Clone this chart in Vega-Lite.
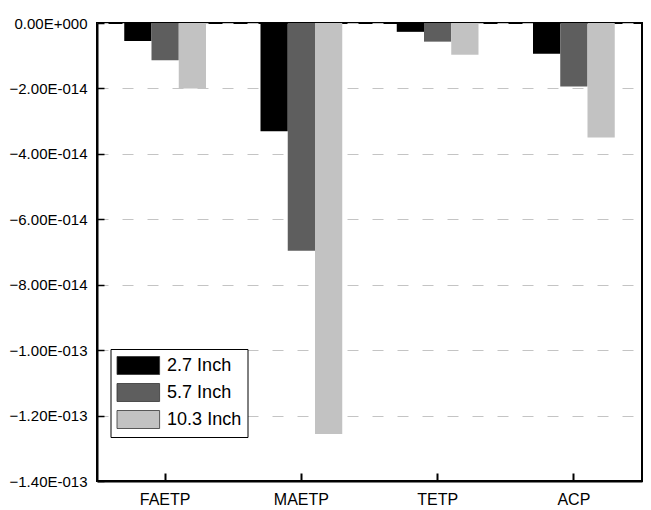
{
  "$schema": "https://vega.github.io/schema/vega-lite/v6.json",
  "width": 545,
  "height": 458,
  "autosize": {"type": "none"},
  "padding": {"left": 97, "top": 23, "right": 9, "bottom": 29},
  "background": "white",
  "config": {
    "font": "Liberation Sans",
    "view": {"stroke": "black", "strokeWidth": 2},
    "axis": {"labelColor": "black", "domainColor": "black", "tickColor": "black"}
  },
  "data": {
    "values": [
      {"category": "FAETP", "series": "2.7 Inch", "value": -5.5e-15},
      {"category": "FAETP", "series": "5.7 Inch", "value": -1.14e-14},
      {"category": "FAETP", "series": "10.3 Inch", "value": -2.0e-14},
      {"category": "MAETP", "series": "2.7 Inch", "value": -3.31e-14},
      {"category": "MAETP", "series": "5.7 Inch", "value": -6.96e-14},
      {"category": "MAETP", "series": "10.3 Inch", "value": -1.256e-13},
      {"category": "TETP", "series": "2.7 Inch", "value": -2.7e-15},
      {"category": "TETP", "series": "5.7 Inch", "value": -5.7e-15},
      {"category": "TETP", "series": "10.3 Inch", "value": -9.7e-15},
      {"category": "ACP", "series": "2.7 Inch", "value": -9.4e-15},
      {"category": "ACP", "series": "5.7 Inch", "value": -1.94e-14},
      {"category": "ACP", "series": "10.3 Inch", "value": -3.5e-14}
    ]
  },
  "mark": {"type": "bar"},
  "encoding": {
    "x": {
      "field": "category",
      "type": "nominal",
      "sort": ["FAETP", "MAETP", "TETP", "ACP"],
      "scale": {"paddingInner": 0.4, "paddingOuter": 0.2},
      "axis": {
        "title": null,
        "labelAngle": 0,
        "labelFontSize": 16,
        "labelPadding": 18,
        "tickSize": -8,
        "tickWidth": 2,
        "domainWidth": 2
      }
    },
    "xOffset": {
      "field": "series",
      "type": "nominal",
      "sort": ["2.7 Inch", "5.7 Inch", "10.3 Inch"],
      "scale": {"paddingInner": 0, "paddingOuter": 0}
    },
    "y": {
      "field": "value",
      "type": "quantitative",
      "scale": {"domain": [-1.4e-13, 0], "nice": false, "zero": false},
      "axis": {
        "title": null,
        "values": [0, -2e-14, -4e-14, -6e-14, -8e-14, -1e-13, -1.2e-13, -1.4e-13],
        "labelExpr": "datum.value == 0 ? '0.00E+000' : replace(upper(format(datum.value, '.2e')), 'E-', 'E-0')",
        "labelFontSize": 15,
        "labelPadding": 17,
        "tickSize": -7,
        "tickWidth": 1.5,
        "domainWidth": 2,
        "grid": true,
        "gridColor": "#c4c4c4",
        "gridDash": [11, 14],
        "gridWidth": 1
      }
    },
    "color": {
      "field": "series",
      "type": "nominal",
      "sort": ["2.7 Inch", "5.7 Inch", "10.3 Inch"],
      "scale": {"range": ["#000000", "#5e5e5e", "#c2c2c2"]},
      "legend": {
        "title": null,
        "orient": "none",
        "legendX": 13.5,
        "legendY": 326,
        "symbolType": "M-1,-0.9H3.26V0.9H-1Z",
        "symbolSize": 400,
        "symbolStrokeColor": "#333333",
        "symbolStrokeWidth": 0.8,
        "labelFontSize": 18,
        "labelColor": "black",
        "labelOffset": 29.6,
        "rowPadding": 4,
        "padding": 6,
        "strokeColor": "black",
        "fillColor": "white",
        "symbolOpacity": 1
      }
    }
  }
}
